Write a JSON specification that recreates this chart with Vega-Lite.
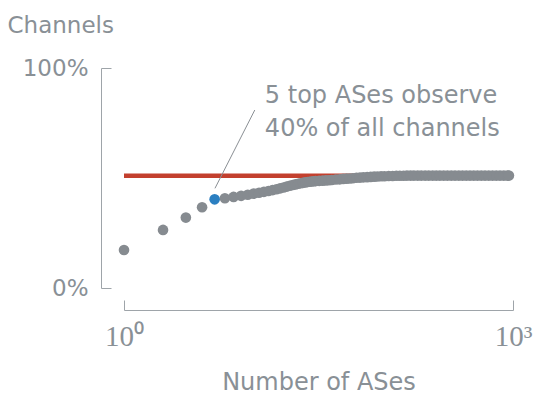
{
  "$schema": "https://vega.github.io/schema/vega-lite/v6.json",
  "width": 389,
  "height": 220,
  "autosize": {"type": "none"},
  "padding": {"left": 124, "top": 68, "right": 22, "bottom": 107},
  "background": "white",
  "config": {
    "view": {"stroke": null},
    "font": "DejaVu Sans",
    "axis": {
      "grid": false,
      "domainColor": "#9ea4a9",
      "tickColor": "#9ea4a9",
      "domainWidth": 1,
      "tickWidth": 1,
      "labelColor": "#899096",
      "titleColor": "#899096",
      "titleFontWeight": "normal",
      "labelFlush": false
    }
  },
  "datasets": {
    "curve": [
      {"ases": 1, "share": 0.173},
      {"ases": 2, "share": 0.264},
      {"ases": 3, "share": 0.320},
      {"ases": 4, "share": 0.367},
      {"ases": 5, "share": 0.403},
      {"ases": 6, "share": 0.408},
      {"ases": 7, "share": 0.414},
      {"ases": 8, "share": 0.419},
      {"ases": 9, "share": 0.424},
      {"ases": 10, "share": 0.429},
      {"ases": 11, "share": 0.433},
      {"ases": 12, "share": 0.437},
      {"ases": 13, "share": 0.441},
      {"ases": 14, "share": 0.445},
      {"ases": 15, "share": 0.449},
      {"ases": 16, "share": 0.453},
      {"ases": 17, "share": 0.457},
      {"ases": 18, "share": 0.461},
      {"ases": 19, "share": 0.465},
      {"ases": 20, "share": 0.468},
      {"ases": 21, "share": 0.471},
      {"ases": 22, "share": 0.474},
      {"ases": 23, "share": 0.476},
      {"ases": 24, "share": 0.478},
      {"ases": 25, "share": 0.480},
      {"ases": 26, "share": 0.482},
      {"ases": 27, "share": 0.483},
      {"ases": 28, "share": 0.484},
      {"ases": 29, "share": 0.485},
      {"ases": 30, "share": 0.486},
      {"ases": 32, "share": 0.487},
      {"ases": 34, "share": 0.488},
      {"ases": 36, "share": 0.489},
      {"ases": 38, "share": 0.490},
      {"ases": 40, "share": 0.491},
      {"ases": 43, "share": 0.493},
      {"ases": 46, "share": 0.494},
      {"ases": 49, "share": 0.496},
      {"ases": 52, "share": 0.497},
      {"ases": 55, "share": 0.498},
      {"ases": 58, "share": 0.499},
      {"ases": 62, "share": 0.501},
      {"ases": 66, "share": 0.502},
      {"ases": 70, "share": 0.503},
      {"ases": 75, "share": 0.504},
      {"ases": 80, "share": 0.505},
      {"ases": 85, "share": 0.506},
      {"ases": 90, "share": 0.507},
      {"ases": 96, "share": 0.508},
      {"ases": 102, "share": 0.508},
      {"ases": 110, "share": 0.509},
      {"ases": 118, "share": 0.509},
      {"ases": 126, "share": 0.510},
      {"ases": 134, "share": 0.510},
      {"ases": 143, "share": 0.510},
      {"ases": 152, "share": 0.511},
      {"ases": 162, "share": 0.511},
      {"ases": 172, "share": 0.511},
      {"ases": 184, "share": 0.511},
      {"ases": 196, "share": 0.511},
      {"ases": 210, "share": 0.511},
      {"ases": 224, "share": 0.511},
      {"ases": 240, "share": 0.511},
      {"ases": 256, "share": 0.511},
      {"ases": 273, "share": 0.511},
      {"ases": 292, "share": 0.511},
      {"ases": 312, "share": 0.511},
      {"ases": 334, "share": 0.511},
      {"ases": 357, "share": 0.511},
      {"ases": 382, "share": 0.511},
      {"ases": 408, "share": 0.511},
      {"ases": 436, "share": 0.511},
      {"ases": 466, "share": 0.511},
      {"ases": 498, "share": 0.511},
      {"ases": 532, "share": 0.511},
      {"ases": 569, "share": 0.511},
      {"ases": 608, "share": 0.511},
      {"ases": 650, "share": 0.511},
      {"ases": 695, "share": 0.511},
      {"ases": 743, "share": 0.511},
      {"ases": 794, "share": 0.511},
      {"ases": 849, "share": 0.511},
      {"ases": 907, "share": 0.511},
      {"ases": 930, "share": 0.511}
    ],
    "reference": [{"ases": 1, "ases2": 1000, "share": 0.51}],
    "pointer": [{"ases": 5.03, "ases2": 10.2, "share": 0.453, "share2": 0.809}],
    "note": [
      {"ases": 12.2, "share": 0.842, "label": "5 top ASes observe"},
      {"ases": 12.2, "share": 0.691, "label": "40% of all channels"}
    ]
  },
  "layer": [
    {
      "data": {"name": "reference"},
      "mark": {"type": "rule", "color": "#c3402e", "strokeWidth": 4.5},
      "encoding": {
        "x": {
          "field": "ases", "type": "quantitative",
          "scale": {"type": "log", "domain": [1, 1000]},
          "axis": {
            "values": [1, 1000],
            "labelExpr": "datum.value == 1 ? '10⁰' : '10³'",
            "labelFont": "Liberation Serif",
            "labelFontSize": 29,
            "labelPadding": 22,
            "tickSize": -10,
            "offset": 22,
            "title": "Number of ASes",
            "titleFontSize": 24,
            "titleBaseline": "alphabetic",
            "titleY": 79
          }
        },
        "x2": {"field": "ases2"},
        "y": {
          "field": "share", "type": "quantitative",
          "scale": {"domain": [0, 1]},
          "axis": {
            "values": [0, 1],
            "format": ".0%",
            "labelFontSize": 23,
            "labelPadding": 23,
            "labelBaseline": "middle",
            "tickSize": -10,
            "offset": 23,
            "title": "Channels",
            "titleFontSize": 23,
            "titleAngle": 0,
            "titleAlign": "left",
            "titleBaseline": "alphabetic",
            "titleX": -94,
            "titleY": -36
          }
        }
      }
    },
    {
      "data": {"name": "curve"},
      "mark": {"type": "point", "filled": true, "size": 113, "opacity": 1, "clip": false},
      "encoding": {
        "x": {"field": "ases", "type": "quantitative"},
        "y": {"field": "share", "type": "quantitative"},
        "color": {
          "condition": {"test": "datum.ases === 5", "value": "#2b7fc1"},
          "value": "#868b90"
        },
        "order": {"condition": {"test": "datum.ases === 5", "value": 1}, "value": 0}
      }
    },
    {
      "data": {"name": "pointer"},
      "mark": {"type": "rule", "color": "#8a8f94", "strokeWidth": 1},
      "encoding": {
        "x": {"field": "ases", "type": "quantitative"},
        "x2": {"field": "ases2"},
        "y": {"field": "share", "type": "quantitative"},
        "y2": {"field": "share2"}
      }
    },
    {
      "data": {"name": "note"},
      "mark": {"type": "text", "align": "left", "baseline": "alphabetic", "fontSize": 24, "color": "#899096", "font": "DejaVu Sans"},
      "encoding": {
        "x": {"field": "ases", "type": "quantitative"},
        "y": {"field": "share", "type": "quantitative"},
        "text": {"field": "label"}
      }
    }
  ]
}
